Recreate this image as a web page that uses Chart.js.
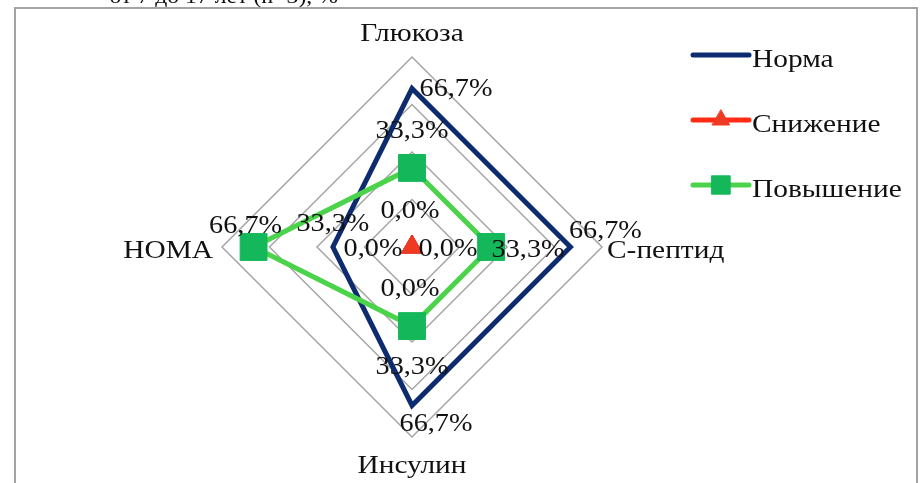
<!DOCTYPE html>
<html>
<head>
<meta charset="utf-8">
<script src="https://cdn.jsdelivr.net/npm/chart.js@4.4.1/dist/chart.umd.min.js"></script>
<style>
  html, body { margin: 0; padding: 0; background: #ffffff; }
  canvas { display: block; }
</style>
</head>
<body>
<canvas id="radar" width="922" height="483"></canvas>
<script>
// Axes of the radar (clockwise from the top)
const axes = ['Глюкоза', 'С-пептид', 'Инсулин', 'HOMA'];
// Series names
const seriesNames = ['Норма', 'Снижение', 'Повышение'];
// Share of patients, %
const normaValues = [66.7, 66.7, 66.7, 33.3];
const decreaseValues = [0.0, 0.0, 0.0, 0.0];
const increaseValues = [33.3, 33.3, 33.3, 66.7];
// Radial scale
const scaleMax = 80;
const scaleStep = 20;
// Caption line running above the frame
const headingText = 'от 7 до 17 лет (n=3), %';

const SERIF = '"Liberation Serif", "Times New Roman", serif';
const TEXT_STRETCH = 1.13;
const fmt = v => v.toFixed(1).replace('.', ',') + '%';

// Draws text slightly widened horizontally, aligned around (x, y)
function drawText(ctx, text, x, y, align) {
  const w = ctx.measureText(text).width * TEXT_STRETCH;
  let left = x;
  if (align === 'center') left = x - w / 2;
  else if (align === 'right') left = x - w;
  ctx.save();
  ctx.translate(left, y);
  ctx.scale(TEXT_STRETCH, 1);
  ctx.textAlign = 'left';
  ctx.fillText(text, 0, 0);
  ctx.restore();
}

// Frame around the chart and the caption above it
const framePlugin = {
  id: 'frame',
  beforeDraw(chart) {
    const ctx = chart.ctx;
    ctx.save();
    ctx.fillStyle = '#ffffff';
    ctx.fillRect(0, 0, chart.width, chart.height);
    ctx.fillStyle = '#111111';
    ctx.font = '21px ' + SERIF;
    ctx.textBaseline = 'alphabetic';
    drawText(ctx, headingText, 338, 3, 'right');
    ctx.strokeStyle = '#a3a3a3';
    ctx.lineWidth = 2;
    ctx.strokeRect(15, 8, 902, 520);
    ctx.restore();
  }
};

// Axis names placed just outside the outer ring
const axisNamesPlugin = {
  id: 'axisNames',
  afterDraw(chart, args, opts) {
    const scale = chart.scales.r;
    const ctx = chart.ctx;
    ctx.save();
    ctx.font = opts.size + 'px ' + SERIF;
    ctx.fillStyle = '#111111';
    ctx.textBaseline = 'middle';
    axes.forEach((name, i) => {
      const p = scale.getPointPosition(i, scale.drawingArea + opts.gaps[i]);
      const dx = p.x - scale.xCenter;
      const align = Math.abs(dx) < 1 ? 'center' : (dx > 0 ? 'left' : 'right');
      drawText(ctx, name, p.x, p.y + opts.shift[i], align);
    });
    ctx.restore();
  }
};

// Value labels next to each point
const valueLabelsPlugin = {
  id: 'valueLabels',
  afterDatasetsDraw(chart, args, opts) {
    const ctx = chart.ctx;
    ctx.save();
    ctx.font = opts.size + 'px ' + SERIF;
    ctx.fillStyle = '#111111';
    ctx.textBaseline = 'middle';
    chart.data.datasets.forEach((ds, di) => {
      const meta = chart.getDatasetMeta(di);
      meta.data.forEach((pt, i) => {
        const off = opts.offsets[di][i];
        drawText(ctx, fmt(ds.data[i]), pt.x + off[0], pt.y + off[1], 'center');
      });
    });
    ctx.restore();
  }
};

// Legend on the right: line sample with marker, then the series name
const sideLegendPlugin = {
  id: 'sideLegend',
  afterDraw(chart, args, opts) {
    const ctx = chart.ctx;
    chart.data.datasets.forEach((ds, i) => {
      const y = opts.top + i * opts.step;
      ctx.save();
      ctx.strokeStyle = ds.borderColor;
      ctx.lineWidth = 5;
      ctx.lineCap = 'round';
      ctx.beginPath();
      ctx.moveTo(opts.x0, y);
      ctx.lineTo(opts.x1, y);
      ctx.stroke();
      if (ds.pointRadius > 0) {
        ctx.fillStyle = ds.pointBackgroundColor;
        ctx.strokeStyle = ds.pointBorderColor;
        ctx.lineWidth = 1;
        Chart.helpers.drawPoint(ctx, {
          pointStyle: ds.pointStyle,
          radius: ds.legendRadius,
          rotation: 0,
          borderWidth: 1
        }, (opts.x0 + opts.x1) / 2, y);
      }
      ctx.fillStyle = '#111111';
      ctx.font = opts.size + 'px ' + SERIF;
      ctx.textBaseline = 'middle';
      drawText(ctx, ds.label, opts.x1 + 3, y + 5, 'left');
      ctx.restore();
    });
  }
};

const ctx = document.getElementById('radar').getContext('2d');
Chart.defaults.font.family = SERIF;

new Chart(ctx, {
  type: 'radar',
  data: {
    labels: axes,
    datasets: [
      {
        label: seriesNames[0],
        data: normaValues,
        borderColor: '#0d2b6f',
        borderWidth: 5,
        pointRadius: 0,
        pointHoverRadius: 0,
        fill: false,
        order: 3
      },
      {
        label: seriesNames[1],
        data: decreaseValues,
        borderColor: '#ff2b14',
        borderWidth: 5,
        pointStyle: 'triangle',
        pointRadius: 12,
        legendRadius: 10,
        pointBackgroundColor: '#ee3a22',
        pointBorderColor: '#ee3a22',
        pointBorderWidth: 1,
        fill: false,
        order: 2
      },
      {
        label: seriesNames[2],
        data: increaseValues,
        borderColor: '#4cd34c',
        borderWidth: 5,
        pointStyle: 'rect',
        pointRadius: 19,
        legendRadius: 13,
        pointBackgroundColor: '#14b85a',
        pointBorderColor: '#14b85a',
        pointBorderWidth: 1,
        fill: false,
        order: 1
      }
    ]
  },
  options: {
    responsive: false,
    animation: false,
    events: [],
    layout: { padding: { top: 57, bottom: 46, left: 222, right: 320 } },
    elements: { line: { tension: 0, borderJoinStyle: 'miter' } },
    scales: {
      r: {
        min: 0,
        max: scaleMax,
        startAngle: 0,
        ticks: { display: false, stepSize: scaleStep },
        grid: { color: '#a6a6a6', lineWidth: 1.5, circular: false },
        angleLines: { display: false },
        pointLabels: { display: false }
      }
    },
    plugins: {
      legend: { display: false },
      tooltip: { enabled: false },
      axisNames: { size: 26, gaps: [23, 5, 29, 9], shift: [0, 4, 0, 4] },
      valueLabels: {
        size: 25,
        offsets: [
          [[44, 1], [35, -16], [24, 19], [0, -23]],
          [[-2, -36], [36, 2], [-2, 42], [-39, 2]],
          [[0, -36], [37, 3], [0, 41], [-8, -21]]
        ]
      },
      sideLegend: { x0: 693, x1: 749, top: 55, step: 65, size: 26 }
    }
  },
  plugins: [framePlugin, axisNamesPlugin, valueLabelsPlugin, sideLegendPlugin]
});
</script>
</body>
</html>
